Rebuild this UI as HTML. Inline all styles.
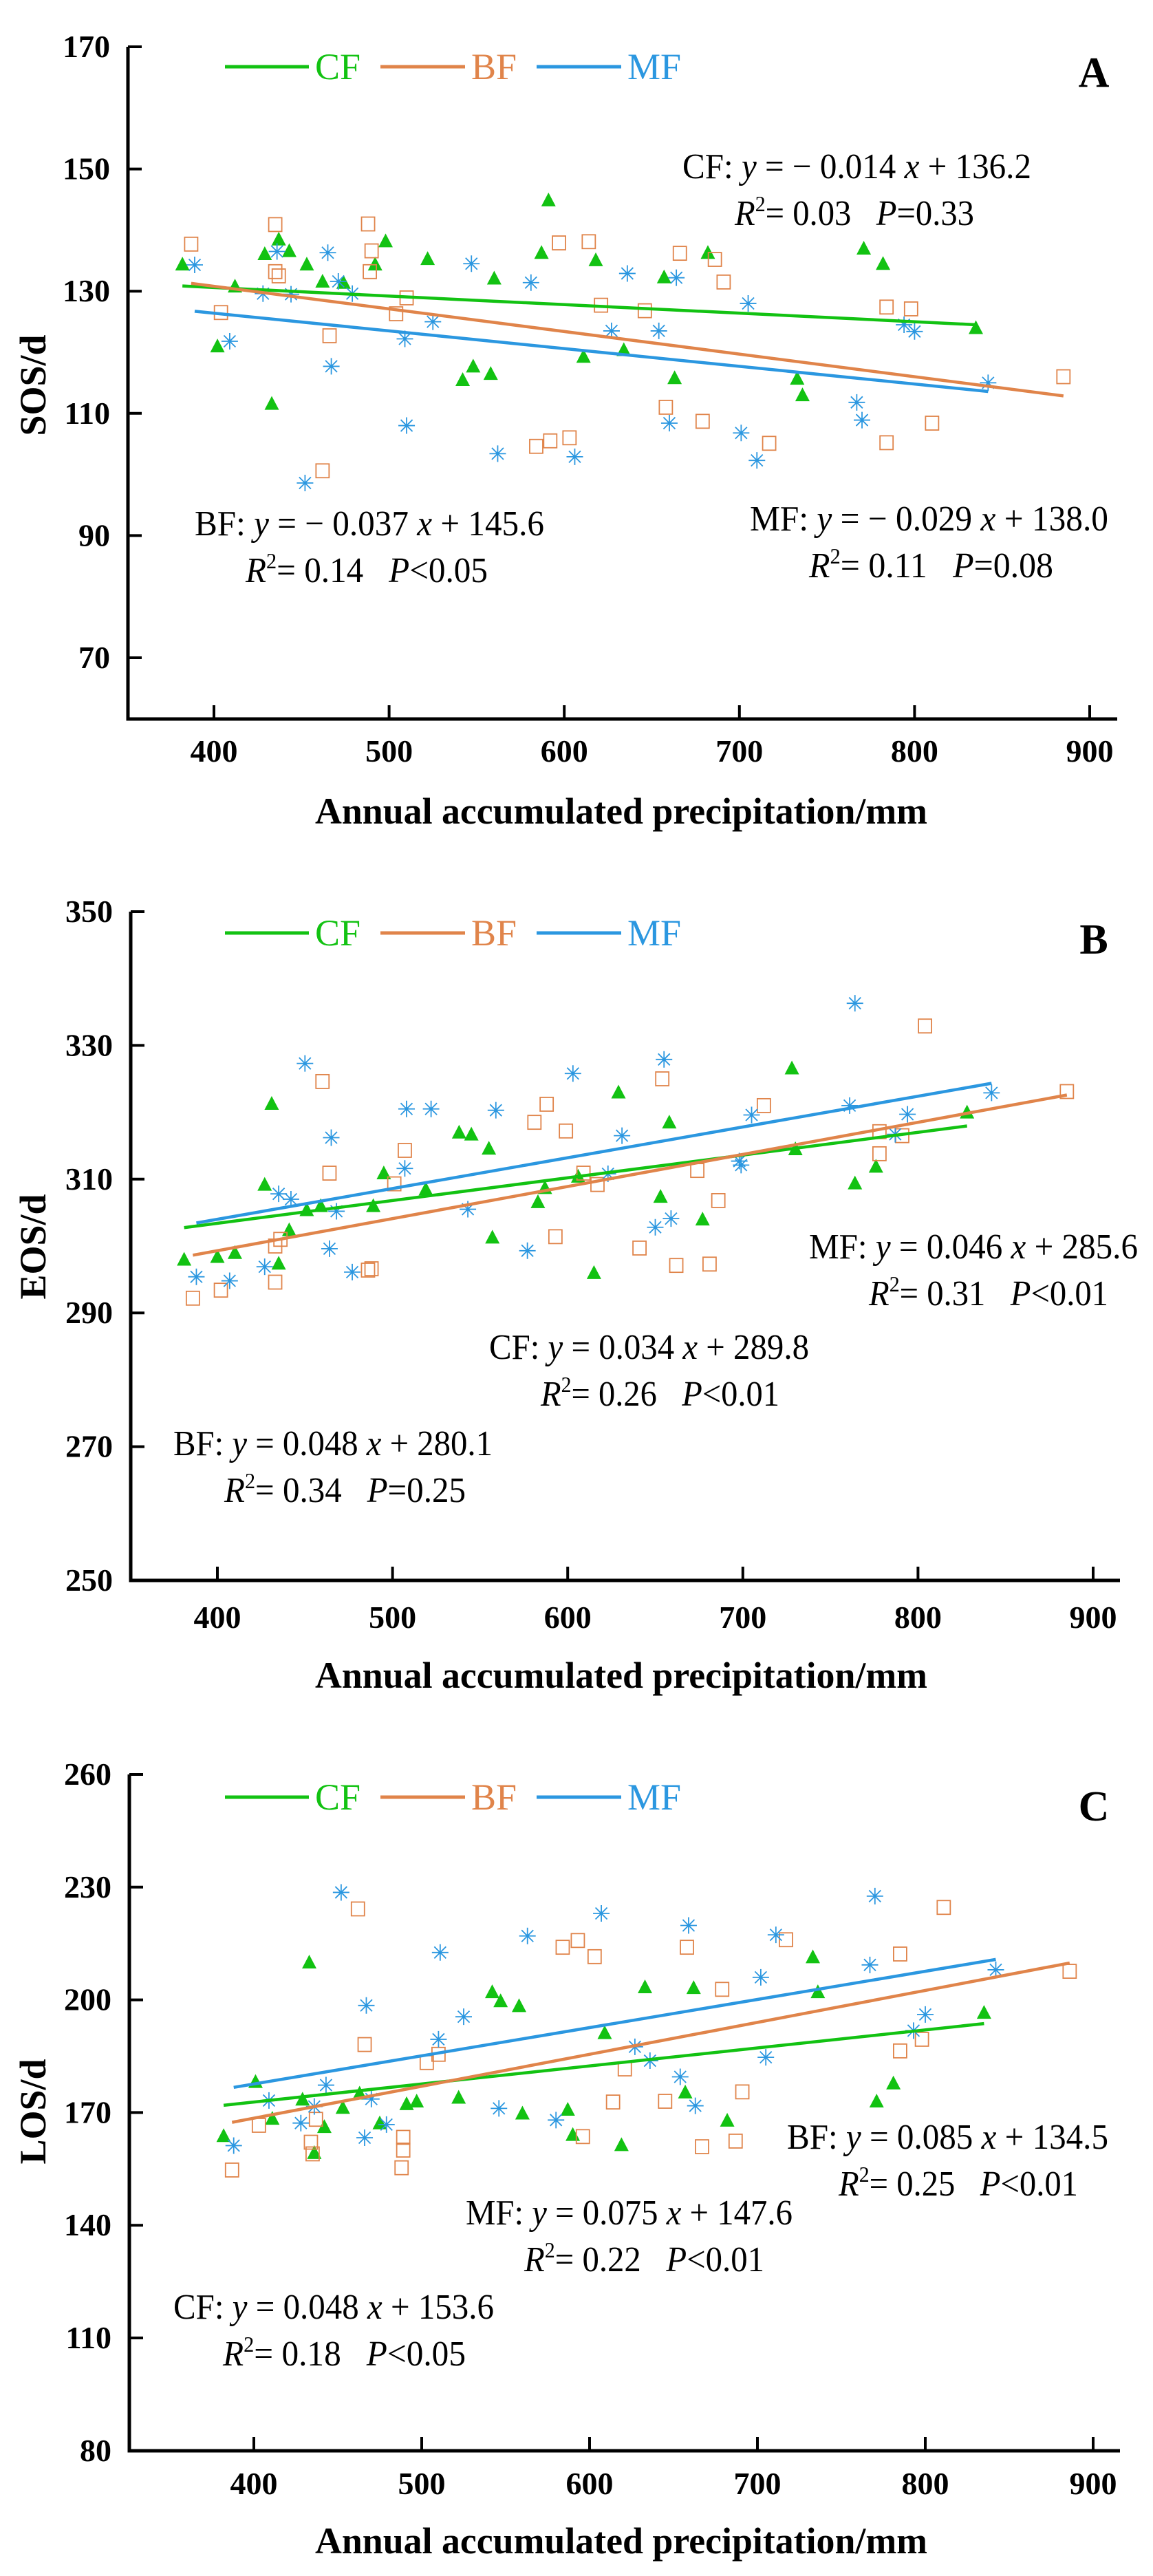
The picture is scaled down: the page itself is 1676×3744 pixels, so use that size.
<!DOCTYPE html>
<html><head><meta charset="utf-8"><style>
html,body{margin:0;padding:0;background:#fff;}
svg{display:block;}
text{font-family:"Liberation Serif",serif;}
</style></head>
<body>
<svg id="fig" width="1676" height="3744" viewBox="0 0 1676 3744" xmlns="http://www.w3.org/2000/svg"></svg>
<script>
// ---------- Panel A (SOS) data ----------
const aCFx=[382,412,402,429,433,437,443,453,462,474,492,498,522,542,548,558,560,587,591,611,618,634,657,663,682,733,736,771,782,835];
const aCFy=[134.4,130.8,121,136.1,111.6,138.5,136.6,134.4,131.6,131.4,134.4,138.2,135.3,115.5,117.7,116.5,132.1,136.3,144.9,119.3,135.1,120.4,132.3,115.8,136.3,115.7,113,137,134.5,124];
const aBFx=[387,404,435,435,437,466,462,488,490,489,504,510,584,592,597,603,614,621,646,658,666,679,686,691,717,784,784,798,810,885];
const aBFy=[137.7,126.5,140.9,133.2,132.5,122.7,100.6,141,136.6,133.2,126.3,128.9,104.6,105.5,137.9,106,138.1,127.7,126.8,111,136.2,108.7,135.2,131.5,105.1,127.4,105.2,127.1,108.4,116];
const aMFx=[389,409,428,436,444,452,465,467,471,479,509,510,525,547,562,581,606,627,636,654,660,664,701,705,710,767,770,794,800,842];
const aMFy=[134.3,121.8,129.6,136.5,129.5,98.6,136.3,117.7,131.6,129.6,122.2,108,125,134.5,103.4,131.4,102.9,123.5,132.9,123.5,108.4,132.2,106.8,128,102.3,111.8,108.9,124.5,123.4,115];
const aSlope=[-0.014,-0.037,-0.029];
const aIntercept=[136.2,145.6,138.0];
const aYTicks=[70,90,110,130,150,170];
// ---------- Panel B (EOS) data ----------
const bCFx=[381,400,410,427,431,435,441,451,459,489,495,519,538,545,555,557,583,587,606,615,629,653,658,677,728,730,764,776,828];
const bCFy=[298,298.4,299,309.2,321.3,297.4,302.4,305.4,306,306,310.9,308.5,317,316.7,314.6,301.3,306.6,308.7,310.4,296,323,307.4,318.5,304,326.6,314.5,309.4,311.9,320];
const bBFx=[386,402,433,433,436,460,464,486,488,501,507,581,588,599,593,609,617,641,654,662,674,681,686,712,778,778,791,804,885];
const bBFy=[292.2,293.4,294.6,300,301,324.6,310.9,296.4,296.6,309.3,314.3,318.5,321.2,317.2,301.4,310.9,309.2,299.7,325,297.1,311.3,297.3,306.8,321,317.1,313.8,316.5,332.9,323.1];
const bMFx=[388,407,427,435,442,450,464,465,468,477,507,508,522,543,559,577,603,623,631,650,659,655,698,699,705,761,764,787,794,842];
const bMFy=[295.4,294.8,296.9,307.8,307,327.3,299.6,316.2,305.2,296.1,311.6,320.5,320.5,305.5,320.3,299.3,325.8,310.8,316.5,302.8,304.1,327.9,312.7,312.1,319.6,321,336.3,316.7,319.7,322.9];
const bSlope=[0.034,0.048,0.046];
const bIntercept=[289.8,280.1,285.6];
const bYTicks=[250,270,290,310,330,350];
// ---------- Panel C (LOS) data ----------
const cCFx=[382,401,411,429,433,436,442,453,463,475,491,497,522,542,547,558,560,587,590,609,619,633,657,662,682,733,736,771,781,835];
const cCFy=[163.8,178.2,168.4,173.5,210,159.3,166.2,171.3,175.1,167.2,172.3,173,174,202.1,199.7,198.4,169.8,170.8,164.1,191.2,161.4,203.4,175.4,203.2,167.9,211.4,202.1,173,177.8,196.6];
const cBFx=[387,403,434,435,437,462,466,488,489,489,503,510,584,593,603,596,614,621,645,658,667,679,687,691,717,785,785,798,811,886];
const cBFy=[154.7,166.6,162.1,159,168.2,224.2,188.1,155.3,163.4,160,183.3,185.5,214,215.8,211.5,163.6,172.8,181.6,173,214,160.9,202.8,162.4,175.5,216,212.2,186.4,189.5,224.6,207.6];
const cMFx=[388,409,428,436,443,452,466,467,470,479,510,511,525,546,563,580,607,627,636,654,659,663,702,705,711,767,770,793,800,842];
const cMFy=[161.2,173.2,167.2,171.6,177.3,228.6,163.3,198.5,173.6,166.8,189.5,212.6,195.5,171.1,217,168,223,187.5,183.8,179.5,219.8,171.8,206,184.7,217.3,209.3,227.6,191.8,196.1,208];
const cSlope=[0.048,0.085,0.075];
const cIntercept=[153.6,134.5,147.6];
const cYTicks=[80,110,140,170,200,230,260];
const xTicks=[400,500,600,700,800,900];
const seriesNames=["CF","BF","MF"];

const NS="http://www.w3.org/2000/svg";
const svg=document.getElementById('fig');
const COL=["#12c212","#e0844a","#2b97e0"];
function mk(tag,attrs,parent){const e=document.createElementNS(NS,tag);for(const k in attrs)e.setAttribute(k,attrs[k]);(parent||svg).appendChild(e);return e;}

const panels=[
 {id:"a",letter:"A",ylab:"SOS/d",yT:aYTicks,ymin:60,ymax:170,yTop:68,yPerU:8.88,x0:311,xPerU:2.546,left:186,right:1624,bottom:1045,
  data:[[aCFx,aCFy],[aBFx,aBFy],[aMFx,aMFy]],sl:aSlope,ic:aIntercept,
  legY:97,letY:126,ylabY:560,tickY:1107,titleY:1197,
  ann:[
   {s:0,eq:"CF: ",neg:true,x1:992,x2:1499,y:259,rx1:1068,rx2:1416,r2:"0.03",p:"=0.33"},
   {s:1,eq:"BF: ",neg:true,x1:283,x2:791,y:778,rx1:357,rx2:709,r2:"0.14",p:"<0.05"},
   {s:2,eq:"MF: ",neg:true,x1:1090,x2:1611,y:771,rx1:1176,rx2:1531,r2:"0.11",p:"=0.08"}]},
 {id:"b",letter:"B",ylab:"EOS/d",yT:bYTicks,ymin:250,ymax:350,yTop:1325,yPerU:9.72,x0:316,xPerU:2.546,left:190,right:1628,bottom:2297,
  data:[[bCFx,bCFy],[bBFx,bBFy],[bMFx,bMFy]],sl:bSlope,ic:bIntercept,
  legY:1356,letY:1386,ylabY:1812,tickY:2366,titleY:2453,
  ann:[
   {s:2,eq:"MF: ",neg:false,x1:1176,x2:1654,y:1829,rx1:1263,rx2:1611,r2:"0.31",p:"<0.01"},
   {s:0,eq:"CF: ",neg:false,x1:711,x2:1176,y:1975,rx1:786,rx2:1133,r2:"0.26",p:"<0.01"},
   {s:1,eq:"BF: ",neg:false,x1:252,x2:716,y:2115,rx1:326,rx2:677,r2:"0.34",p:"=0.25"}]},
 {id:"c",letter:"C",ylab:"LOS/d",yT:cYTicks,ymin:80,ymax:260,yTop:2579,yPerU:5.46,x0:369,xPerU:2.44,left:188,right:1628,bottom:3562,
  data:[[cCFx,cCFy],[cBFx,cBFy],[cMFx,cMFy]],sl:cSlope,ic:cIntercept,
  legY:2612,letY:2646,ylabY:3069,tickY:3625,titleY:3711,
  ann:[
   {s:1,eq:"BF: ",neg:false,x1:1144,x2:1611,y:3123,rx1:1219,rx2:1567,r2:"0.25",p:"<0.01"},
   {s:2,eq:"MF: ",neg:false,x1:677,x2:1152,y:3233,rx1:762,rx2:1111,r2:"0.22",p:"<0.01"},
   {s:0,eq:"CF: ",neg:false,x1:252,x2:718,y:3370,rx1:324,rx2:677,r2:"0.18",p:"<0.05"}]}
];

function fmt(v,d){return v.toFixed(d);}

panels.forEach(P=>{
 const g=mk('g',{});
 
 
 const X=v=>P.x0+(v-400)*P.xPerU;
 const Y=v=>P.yTop+(P.ymax-v)*P.yPerU;
 // axes
 const ax=mk('path',{d:`M${P.left},${Y(P.ymax)} L${P.left},${P.bottom} L${P.right},${P.bottom}`,fill:'none',stroke:'#000','stroke-width':5},g);
 
 
 P.yT.forEach(t=>{
  const y=Y(t);
  const tk=mk('line',{x1:P.left,x2:P.left+20,y1:y,y2:y,stroke:'#000','stroke-width':4},g);
  
  
  const tl=mk('text',{x:P.left-26,y:y+15,'text-anchor':'end','font-size':46,'font-weight':'bold'},g);
  tl.textContent=t;
  
  
 });
 xTicks.forEach(t=>{
  const x=X(t);
  const tk=mk('line',{x1:x,x2:x,y1:P.bottom,y2:P.bottom-20,stroke:'#000','stroke-width':4},g);
  
  
  const tl=mk('text',{x:x,y:P.tickY,'text-anchor':'middle','font-size':46,'font-weight':'bold'},g);
  tl.textContent=t;
  
  
 });
 const xt=mk('text',{x:903,y:P.titleY,'text-anchor':'middle','font-size':54,'font-weight':'bold',textLength:890,lengthAdjust:'spacingAndGlyphs'},g);
 xt.textContent='Annual accumulated precipitation/mm';
 
 
 const yt=mk('text',{x:0,y:0,'text-anchor':'middle','font-size':54,'font-weight':'bold',transform:`translate(66,${P.ylabY}) rotate(-90)`},g);
 yt.textContent=P.ylab;
 
 
 const lt=mk('text',{x:1590,y:P.letY,'text-anchor':'middle','font-size':62,'font-weight':'bold'},g);
 lt.textContent=P.letter;
 
 
 // legend
 const lx=[[327,449,458],[553,676,685],[780,903,912]];
 seriesNames.forEach((n,i)=>{
  const lg=mk('g',{},g);
  
  
  mk('line',{x1:lx[i][0],x2:lx[i][1],y1:P.legY,y2:P.legY,stroke:COL[i],'stroke-width':5},lg);
  const t=mk('text',{x:lx[i][2],y:P.legY+18,'font-size':54,fill:COL[i]},lg);
  t.textContent=n;
 });
 // points
 P.data.forEach((d,i)=>{
  const sg=mk('g',{},g);
  
  
  d[0].forEach((xv,k)=>{
   const cx=X(xv),cy=Y(d[1][k]);
   let m;
   if(i===0){m=mk('path',{d:`M${cx},${cy-11} L${cx+10.5},${cy+9} L${cx-10.5},${cy+9} Z`,fill:COL[0]},sg);}
   else if(i===1){m=mk('rect',{x:cx-9.5,y:cy-10,width:19,height:20,fill:'none',stroke:COL[1],'stroke-width':1.8},sg);}
   else{const r=12;m=mk('path',{d:`M${cx},${cy-r}V${cy+r}M${cx-r},${cy}H${cx+r}M${cx-8.5},${cy-8.5}L${cx+8.5},${cy+8.5}M${cx-8.5},${cy+8.5}L${cx+8.5},${cy-8.5}`,stroke:COL[2],'stroke-width':1.8,fill:'none'},sg);}
   
   
  });
 });
 // regression lines
 P.data.forEach((d,i)=>{
  const mn=Math.min(...d[0]),mx=Math.max(...d[0]);
  const f=v=>P.sl[i]*v+P.ic[i];
  const ln=mk('line',{x1:X(mn),y1:Y(f(mn)),x2:X(mx),y2:Y(f(mx)),stroke:COL[i],'stroke-width':4.5},g);
  
  
 });
 // annotations
 P.ann.forEach(A=>{
  const s=A.s;
  const t1=mk('text',{x:A.x1,y:A.y,'font-size':52,textLength:A.x2-A.x1,lengthAdjust:'spacingAndGlyphs'},g);
  
  
  const sv=Math.abs(P.sl[s]);
  t1.innerHTML=A.eq+'<tspan font-style="italic">y</tspan> = '+(A.neg?'\u2212 ':'')+fmt(sv,3)+' <tspan font-style="italic">x</tspan> + '+fmt(P.ic[s],1);
  const t2=mk('text',{x:A.rx1,y:A.y+68,'font-size':52,textLength:A.rx2-A.rx1,lengthAdjust:'spacingAndGlyphs'},g);
  
  
  t2.innerHTML='<tspan font-style="italic">R</tspan><tspan font-size="32" dy="-20">2</tspan><tspan dy="20">= '+A.r2+'\u00a0\u00a0\u00a0</tspan><tspan font-style="italic">P</tspan>'+A.p.replace('<','&lt;');
 });
});
</script>
</body></html>
